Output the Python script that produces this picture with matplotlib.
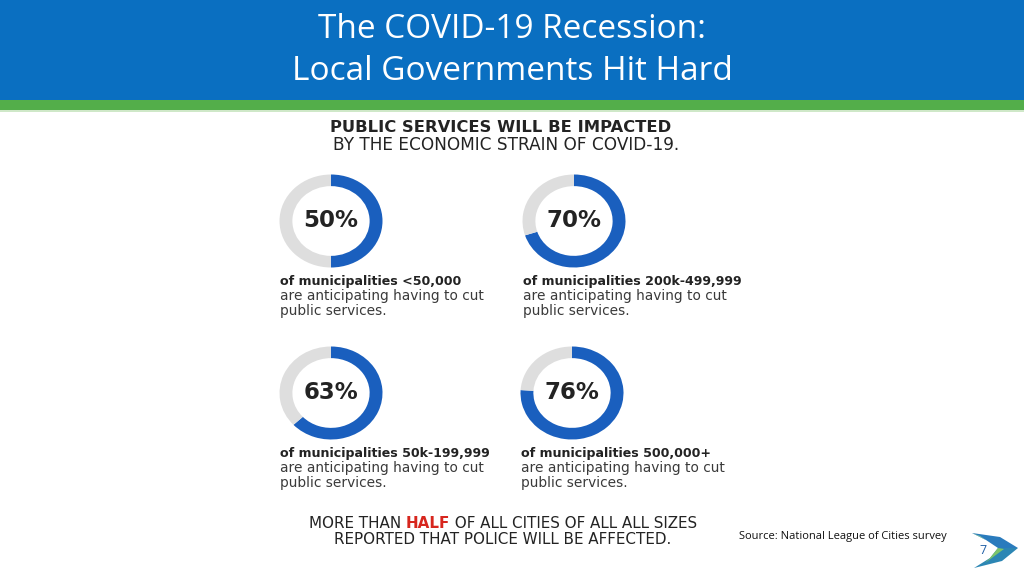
import matplotlib
matplotlib.use('Agg')
import matplotlib.pyplot as plt
from matplotlib.patches import Rectangle, Polygon

# data
pcts = [50, 70, 63, 76]
groups = ['<50,000', '200k-499,999', '50k-199,999', '500,000+']
title_lines = ['The COVID-19 Recession:', 'Local Governments Hit Hard']
head1 = 'PUBLIC SERVICES WILL BE IMPACTED'
head2 = 'BY THE ECONOMIC STRAIN OF COVID-19.'
foot_parts = ['MORE THAN ', 'HALF', ' OF ALL CITIES OF ALL ALL SIZES']
foot2 = 'REPORTED THAT POLICE WILL BE AFFECTED.'
source = 'Source: National League of Cities survey'

W, H = 1024, 576
blue = '#1a5fbe'
grey = '#dedede'
dark = '#232323'

fig = plt.figure(figsize=(W / 100, H / 100), dpi=100)
bg = fig.add_axes([0, 0, 1, 1])
bg.set_xlim(0, W)
bg.set_ylim(H, 0)
bg.axis('off')

# title bar + green band
bg.add_patch(Rectangle((0, 0), W, 100, color='#0a6fc1', lw=0))
bg.add_patch(Rectangle((0, 100), W, 10, color='#53ae4a', lw=0))
bg.add_patch(Rectangle((0, 110), W, 1.5, color='#cfe8c8', lw=0))
bg.text(512, 30, title_lines[0], color='white', fontsize=24, family='Open Sans',
        ha='center', va='center')
bg.text(512, 71, title_lines[1], color='white', fontsize=24, family='Open Sans',
        ha='center', va='center')

bg.text(501, 127, head1, fontsize=11.8, fontweight='bold', color=dark, ha='center', va='center')
bg.text(506, 145, head2, fontsize=12.2, color=dark, ha='center', va='center')

# donuts: centre positions in pixels
centres = [(331, 221), (574, 221), (331, 393), (572, 393)]
rx, ry = 51.5, 46.5
for (cx, cy), p, g in zip(centres, pcts, groups):
    ax = fig.add_axes([(cx - rx) / W, 1 - (cy + ry) / H, 2 * rx / W, 2 * ry / H])
    ax.pie([p, 100 - p], colors=[blue, grey], startangle=90, counterclock=False,
           radius=1, wedgeprops=dict(width=0.25, edgecolor='none'))
    ax.set_xlim(-1, 1)
    ax.set_ylim(-1, 1)
    ax.set_aspect('auto')
    ax.axis('off')
    ax.text(0, 0.02, f'{p}%', fontsize=16.5, fontweight='bold', color=dark,
            ha='center', va='center')
    x0 = cx - 51
    bg.text(x0, cy + 60, f'of municipalities {g}', fontsize=9.1, fontweight='bold',
            color=dark, va='center')
    bg.text(x0, cy + 75, 'are anticipating having to cut', fontsize=9.9, color='#3a3a3a',
            va='center')
    bg.text(x0, cy + 90, 'public services.', fontsize=9.9, color='#3a3a3a', va='center')

# footer line with red HALF
r = fig.canvas.get_renderer()
pieces = []
x = 0
for i, s in enumerate(foot_parts):
    t = bg.text(x, 523, s, fontsize=10.9, color='#d7261e' if i == 1 else dark,
                fontweight='bold' if i == 1 else 'normal', va='center', ha='left')
    bb = t.get_window_extent(renderer=r)
    pieces.append((t, x))
    x += bb.width
shift = 503 - x / 2
for t, px in pieces:
    t.set_x(px + shift)
bg.text(503, 539, foot2, fontsize=10.9, color=dark, ha='center', va='center')

bg.text(843, 537, source, fontsize=8, family='Open Sans', color='#111111',
        ha='center', va='center')

# logo swoosh
bg.add_patch(Polygon([[972, 533], [1000, 537], [1018, 548], [998, 548], [986, 540]],
                     closed=True, color='#2a7bbd', lw=0))
bg.add_patch(Polygon([[972, 533], [986, 540], [980, 536]], closed=True,
                     color='#8cc9a0', lw=0))
bg.add_patch(Polygon([[1018, 548], [1002, 561], [974, 568], [990, 558], [998, 548]],
                     closed=True, color='#2c86b4', lw=0))
bg.add_patch(Polygon([[990, 558], [998, 548], [1004, 549], [985, 563]], closed=True,
                     color='#7cc46a', lw=0))
bg.text(983, 550, '7', fontsize=9, family='Open Sans', color='#1f5fa6', ha='center',
        va='center')

fig.savefig('out.png', dpi=100, facecolor='white')
